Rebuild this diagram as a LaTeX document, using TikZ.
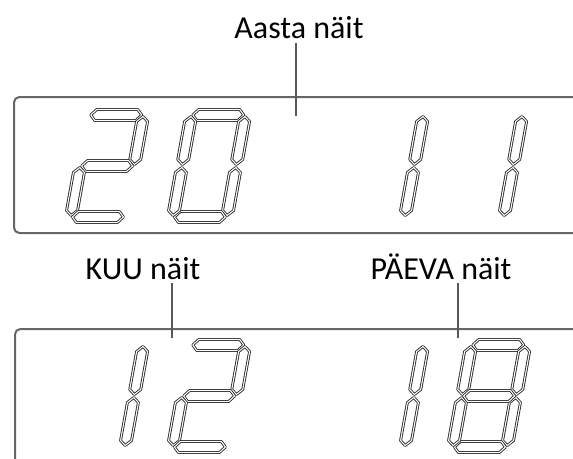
\documentclass[tikz,border=0pt]{standalone}
\usepackage{fontspec}
\setmainfont{Carlito}
\usepackage{tikz}

% one segment, horizontal: x1 x2 y
\newcommand\segh[3]{\draw[seg_line] ({#1+1.5},#3) -- ({#1+6.5},{#3+5.5}) -- ({#2-6.5},{#3+5.5}) -- ({#2-1.5},#3) -- ({#2-6.5},{#3-5.5}) -- ({#1+6.5},{#3-5.5}) -- cycle;}
% one segment, vertical: x y1 y2
\newcommand\segv[3]{\draw[seg_line] (#1,{#2+1.5}) -- ({#1+5.5},{#2+6.5}) -- ({#1+5.5},{#3-6.5}) -- (#1,{#3-1.5}) -- ({#1-5.5},{#3-6.5}) -- ({#1-5.5},{#2+6.5}) -- cycle;}
\newcommand\sega{\segh{5}{59}{107}}
\newcommand\segb{\segv{59}{56}{107}}
\newcommand\segc{\segv{59}{5}{56}}
\newcommand\segd{\segh{5}{59}{5}}
\newcommand\sege{\segv{5}{5}{56}}
\newcommand\segf{\segv{5}{56}{107}}
\newcommand\segg{\segh{5}{59}{56}}
% digit at bottom left corner (x,y), list of lit segments
\newcommand\sevdigit[3]{\begin{scope}[shift={(#1,#2)},xslant=0.18]
  \foreach \s in {#3} {\csname seg\s\endcsname}
\end{scope}}

\begin{document}
\begin{tikzpicture}[x=0.75pt,y=0.75pt,
  seg_line/.style={draw=black!85,line width=0.65pt,double=white,double distance=0.8pt,line join=round},
  box_line/.style={draw=black!60,line width=1.5pt,rounded corners=4pt},
  lead_line/.style={draw=black!65,line width=1pt},
  label_node/.style={font=\fontsize{24}{28}\selectfont,anchor=base,inner sep=0pt}]
\useasboundingbox (0,0) rectangle (573,458);

% displays
\draw[box_line] (580,361) -- (14,361) -- (14,225) -- (580,225);
\draw[box_line] (580,129) -- (15,129) -- (15,-10);

% labels
\node[label_node] (year) at (299,419) {Aasta näit};
\node[label_node] (month) at (143,179) {KUU näit};
\node[label_node] (day) at (441,179) {PÄEVA näit};
\coordinate (year_end) at (296,342);
\coordinate (month_end) at (172,120);
\coordinate (day_end) at (458,120);
\draw[lead_line] (year.south -| year_end) ++(0,-3) -- (year_end);
\draw[lead_line] (month.south -| month_end) ++(0,-3) -- (month_end);
\draw[lead_line] (day.south -| day_end) ++(0,-3) -- (day_end);

% 2011
\sevdigit{65}{236}{a,b,g,e,d}
\sevdigit{167}{236}{a,b,c,d,e,f}
\sevdigit{345}{236}{b,c}
\sevdigit{444}{236}{b,c}

% 12 18
\sevdigit{65}{6}{b,c}
\sevdigit{167}{6}{a,b,g,e,d}
\sevdigit{345}{6}{b,c}
\sevdigit{447}{6}{a,b,c,d,e,f,g}
\end{tikzpicture}
\end{document}
